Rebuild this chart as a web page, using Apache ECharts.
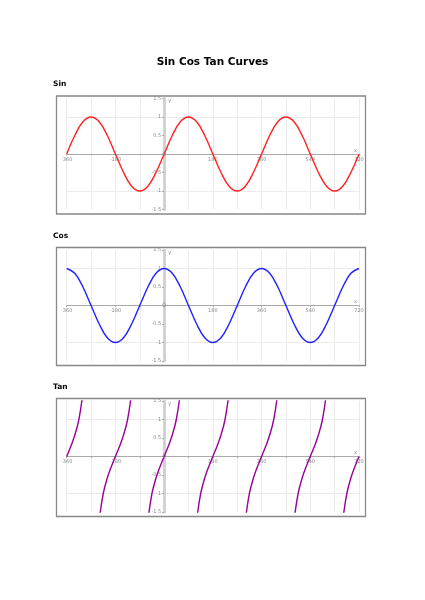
<!DOCTYPE html>
<html>
<head>
<meta charset="utf-8">
<script src="https://cdn.jsdelivr.net/npm/echarts@6/dist/echarts.min.js"></script>
<style>
html,body{margin:0;padding:0;background:#fff;}
#c{width:425px;height:600px;}
</style>
</head>
<body>
<div id="c"></div>
<script>
// ---- data ----
var chartTitle = "Sin Cos Tan Curves";
var panelNames = ["Sin", "Cos", "Tan"];
var xTickValues = [-360, -180, 0, 180, 360, 540, 720];
var yTickValues = [-1.5, -1, -0.5, 0, 0.5, 1, 1.5];

var waveAngles = [-360,-330,-300,-270,-240,-210,-180,-150,-120,-90,-60,-30,0,30,60,90,120,150,180,210,240,270,300,330,360,390,420,450,480,510,540,570,600,630,660,690,720];
var sinValues = [0,0.5,0.87,1,0.87,0.5,0,-0.5,-0.87,-1,-0.87,-0.5,0,0.5,0.87,1,0.87,0.5,0,-0.5,-0.87,-1,-0.87,-0.5,0,0.5,0.87,1,0.87,0.5,0,-0.5,-0.87,-1,-0.87,-0.5,0];
var cosValues = [1,0.87,0.5,0,-0.5,-0.87,-1,-0.87,-0.5,0,0.5,0.87,1,0.87,0.5,0,-0.5,-0.87,-1,-0.87,-0.5,0,0.5,0.87,1,0.87,0.5,0,-0.5,-0.87,-1,-0.87,-0.5,0,0.5,0.87,1];

var tanAngles = [-360,-345,-330,-315,-300,-270,
  -240,-225,-210,-195,-180,-165,-150,-135,-120,-90,
  -60,-45,-30,-15,0,15,30,45,60,90,
  120,135,150,165,180,195,210,225,240,270,
  300,315,330,345,360,375,390,405,420,450,
  480,495,510,525,540,555,570,585,600,630,
  660,675,690,705,720];
var tanValues = [0,0.27,0.58,1,1.73,null,
  -1.73,-1,-0.58,-0.27,0,0.27,0.58,1,1.73,null,
  -1.73,-1,-0.58,-0.27,0,0.27,0.58,1,1.73,null,
  -1.73,-1,-0.58,-0.27,0,0.27,0.58,1,1.73,null,
  -1.73,-1,-0.58,-0.27,0,0.27,0.58,1,1.73,null,
  -1.73,-1,-0.58,-0.27,0,0.27,0.58,1,1.73,null,
  -1.73,-1,-0.58,-0.27,0];

var seriesColors = ["#ff2222", "#2222ff", "#990099"];

function zip(xs, ys){ return xs.map(function(x,i){ return [x, ys[i]]; }); }

// ---- layout ----
var gridTops = [98.5, 250, 401];
var gridLeft = 66.7, gridRight = 66, gridH = 111;
var gridW = 425 - gridLeft - gridRight;
var xMin = -360, xMax = 720, yMin = -1.5, yMax = 1.5;
var yAxisOffset = -gridW * (0 - xMin) / (xMax - xMin);   // move y axis to x = 0
var xAxisOffset = -gridH * (0 - yMin) / (yMax - yMin);   // move x axis to y = 0
var fontName = "DejaVu Sans";

var grids = [], xAxes = [], yAxes = [], seriesList = [], titles = [], graphics = [];
titles.push({text: chartTitle, left: 'center', top: 52, textStyle:{fontFamily:fontName, fontSize:10.5, fontWeight:'bold', color:'#000'}});

var datasets = [zip(waveAngles, sinValues), zip(waveAngles, cosValues), zip(tanAngles, tanValues)];

for (var i=0;i<3;i++){
  var gTop = gridTops[i];
  grids.push({left: gridLeft, right: gridRight, top: gTop, height: gridH, containLabel:false});
  titles.push({text: panelNames[i], left: 48, top: gTop - 23, textStyle:{fontFamily:fontName, fontSize:7.5, fontWeight:'bold', color:'#000'}});
  graphics.push({type:'rect', shape:{x:56.5, y: gTop-2.5, width:309, height:118}, style:{fill:'none', stroke:'#888', lineWidth:1.3}, z:-1});
  xAxes.push({
    type:'value', gridIndex:i, min:xMin, max:xMax, interval:90,
    position:'bottom', offset:xAxisOffset,
    name:'x', nameLocation:'end', nameGap:-2,
    nameTextStyle:{fontFamily:fontName, fontSize:5, color:'#888', verticalAlign:'bottom', align:'right', padding:[0,0,1,0]},
    axisLine:{onZero:false, lineStyle:{color:'#aaa', width:1}},
    axisTick:{show:true, length:1.5, inside:false, lineStyle:{color:'#aaa'}},
    axisLabel:{fontFamily:fontName, fontSize:5, color:'#888', margin:3,
      formatter:function(v){ return (v % 180 === 0 && v !== 0) ? String(v) : ''; }},
    splitLine:{show:true, lineStyle:{color:'#ebebeb', width:1}}
  });
  yAxes.push({
    type:'value', gridIndex:i, min:yMin, max:yMax, interval:0.5,
    position:'left', offset:yAxisOffset,
    name:'y', nameLocation:'end', nameGap:-5,
    nameTextStyle:{fontFamily:fontName, fontSize:5, color:'#888', align:'left', padding:[0,0,0,4]},
    axisLine:{show:true, onZero:false, lineStyle:{color:'#d2d2d2', width:3}},
    axisTick:{show:true, length:2, lineStyle:{color:'#aaa'}},
    axisLabel:{fontFamily:fontName, fontSize:5, color:'#888', margin:3,
      formatter:function(v){ return v === 0 ? '' : String(v); }},
    splitLine:{show:true, lineStyle:{color:['rgba(0,0,0,0)','#ebebeb'], width:1}}
  });
  seriesList.push({
    type:'line', xAxisIndex:i, yAxisIndex:i, data: datasets[i],
    smooth:0.4, showSymbol:false, connectNulls:false, clip:true,
    lineStyle:{color: seriesColors[i], width:1.4},
    markPoint:{symbol:'circle', symbolSize:0, silent:true,
      data:[{coord:[0,0], value:0}],
      label:{show:true, position:'inside', formatter:'0', fontFamily:fontName, fontSize:6, color:'#888'}}
  });
}

var chart = echarts.init(document.getElementById('c'), null, {renderer:'canvas'});
chart.setOption({
  backgroundColor:'#fff',
  animation:false,
  title: titles,
  grid: grids,
  xAxis: xAxes,
  yAxis: yAxes,
  series: seriesList,
  graphic: graphics
});
</script>
</body>
</html>
